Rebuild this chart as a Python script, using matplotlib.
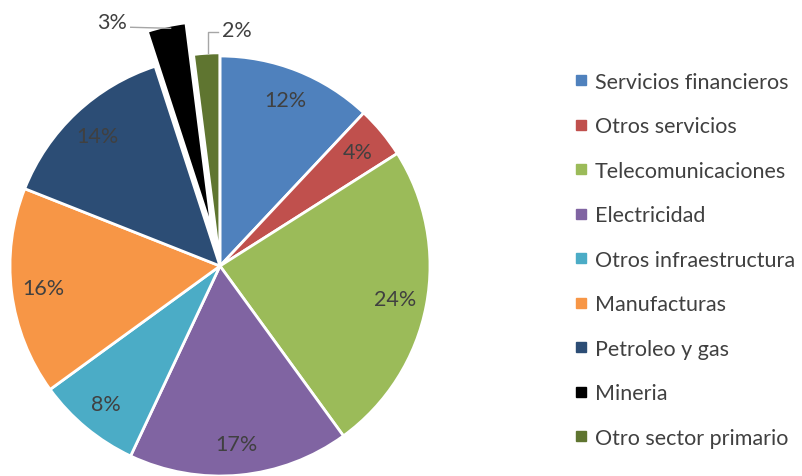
import numpy as np
import matplotlib
matplotlib.use("Agg")
import matplotlib.pyplot as plt
from matplotlib.lines import Line2D

plt.rcParams['font.family'] = ['Lato', 'DejaVu Sans']

sectores = ['Servicios financieros', 'Otros servicios', 'Telecomunicaciones',
            'Electricidad', 'Otros infraestructura', 'Manufacturas',
            'Petroleo y gas', 'Mineria', 'Otro sector primario']
porcentajes = [12, 4, 24, 17, 8, 16, 14, 3, 2]
colores = ['#4F81BD', '#C0504D', '#9BBB59', '#8064A2', '#4BACC6',
           '#F79646', '#2C4D75', '#000000', '#5F7530']
separacion = [0, 0, 0, 0, 0, 0, 0, 0.17, 0.015]

fs = 15.5
fig = plt.figure(figsize=(8.03, 4.77), dpi=100)
ax = fig.add_axes([0, 0, 1, 1])
ax.axis('off')

wedges, texts, autotexts = ax.pie(
    porcentajes, colors=colores, explode=separacion, startangle=90,
    counterclock=False, autopct='%1.0f%%', pctdistance=0.85,
    wedgeprops=dict(edgecolor='white', linewidth=2),
    textprops=dict(color='#404040', fontsize=fs))

# outside labels for the small slices
for t in autotexts[7:]:
    t.set_visible(False)

gris = '#A6A6A6'
# Mineria
w = wedges[7]
ang = np.deg2rad((w.theta1 + w.theta2) / 2)
cx, cy = w.center
px, py = cx + 1.0 * np.cos(ang) + 0.02, cy + 1.0 * np.sin(ang) - 0.01
ax.plot([px - 0.19, px], [py + 0.005, py], color=gris, lw=1)
ax.text(px - 0.21, py + 0.03, '3%', ha='right', va='center',
        color='#404040', fontsize=fs)

# Otro sector primario
w = wedges[8]
ang = np.deg2rad((w.theta1 + w.theta2) / 2)
cx, cy = w.center
px, py = cx + 0.99 * np.cos(ang) + 0.005, cy + 0.99 * np.sin(ang)
ax.plot([px, px, px + 0.05], [py + 0.01, py + 0.11, py + 0.11], color=gris, lw=1)
ax.text(px + 0.07, py + 0.12, '2%', ha='left', va='center',
        color='#404040', fontsize=fs)

ax.set_xlim(-220 / 210, (803 - 220) / 210)
ax.set_ylim(-210 / 210, 267 / 210)
ax.set_aspect('auto')

handles = [Line2D([], [], marker='s', linestyle='none', markersize=6.5,
                  markerfacecolor=c, markeredgecolor=c) for c in colores]
leg = fig.legend(handles, sectores, loc='upper left',
                 bbox_to_anchor=(566 / 803, 1 - 64 / 477), frameon=False,
                 fontsize=fs, labelspacing=1.14, handlelength=0.6,
                 handletextpad=0.35, borderaxespad=0)
for t in leg.get_texts():
    t.set_color('#404040')

fig.savefig('out.png', dpi=100)
